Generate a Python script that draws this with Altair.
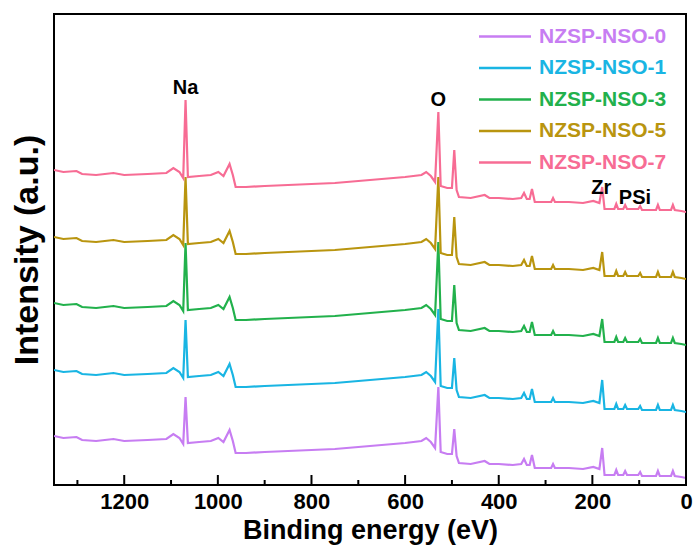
import altair as alt
import pandas as pd

series_names = ["NZSP-NSO-0", "NZSP-NSO-1", "NZSP-NSO-3", "NZSP-NSO-5", "NZSP-NSO-7"]
series_colors = ["#c77df2", "#19b5e3", "#22b14c", "#b9950f", "#f76c94"]

energy = [1350, 1330, 1302, 1290, 1260, 1223, 1200, 1150, 1110, 1095, 1082, 1074, 1069, 1064, 1040,
          1015, 999, 988, 975, 968, 962, 940, 900, 850, 800, 750, 700, 650, 600, 565, 555, 545, 536,
          529, 524, 510, 500, 495, 490, 485, 460, 430, 420, 400, 370, 352, 346, 340, 334, 329, 323,
          300, 288, 284, 280, 250, 220, 198, 185, 179, 174, 160, 153, 149, 145, 134, 130, 126,
          102, 98, 94, 64, 60, 56, 32, 28, 24, 10, 0]

nso0 = [49, 47, 48, 45, 44, 46, 44, 45, 46, 51, 47, 41, 88, 42, 43, 44, 47, 43, 55, 44, 32, 32, 33, 34, 35,
        36, 38, 40, 42, 44, 47, 43, 37, 98, 33, 31, 31, 56, 29, 22, 21, 24, 21, 21, 20, 21, 26, 20, 20, 30,
        17,
        17, 17, 21, 17, 17, 16, 18, 16, 37, 10, 10, 10, 15, 10, 10, 14, 10, 10, 13, 9, 9, 14, 9, 9, 14, 9, 8, 7]
nso1 = [115, 113, 114, 111, 110, 112, 110, 111, 112, 117, 113, 107, 165, 108, 109, 110, 113, 109, 121, 110,
        98, 98, 99, 100, 101, 102, 104, 106, 108, 110, 113, 109, 103, 176, 99, 97, 97, 127, 95, 88,
        87, 90, 87, 87, 86, 87, 92, 86, 86, 96, 83,
        83, 83, 87, 83, 83, 82, 84, 82, 105, 76, 76, 76, 81, 76, 76, 80, 76, 76, 79, 75, 75, 80, 75, 75, 80,
        75, 74, 73]
nso3 = [182, 180, 181, 178, 177, 179, 177, 178, 179, 184, 180, 174, 242, 175, 176, 177, 180, 176, 188, 177,
        165, 165, 166, 167, 168, 169, 171, 173, 175, 177, 180, 176, 170, 243, 166, 164, 164, 200, 162, 155,
        154, 157, 154, 154, 153, 154, 159, 153, 153, 163, 150,
        150, 150, 154, 150, 150, 149, 151, 149, 166, 143, 143, 143, 148, 143, 143, 147, 143, 143, 146, 142,
        142, 147, 142, 142, 147, 142, 141, 140]
nso5 = [248, 246, 247, 244, 243, 245, 243, 244, 245, 250, 246, 240, 308, 241, 242, 243, 246, 242, 254, 243,
        231, 231, 232, 233, 234, 235, 237, 239, 241, 243, 246, 242, 236, 308, 232, 230, 230, 268, 228, 221,
        220, 223, 220, 220, 219, 220, 225, 219, 219, 229, 216,
        216, 216, 220, 216, 216, 215, 217, 215, 233, 209, 209, 209, 214, 209, 209, 213, 209, 209, 212, 208,
        208, 213, 208, 208, 213, 208, 207, 206]
nso7 = [315, 313, 314, 311, 310, 312, 310, 311, 312, 317, 313, 307, 385, 308, 309, 310, 313, 309, 321, 310,
        298, 298, 299, 300, 301, 302, 304, 306, 308, 310, 313, 309, 303, 373, 299, 297, 297, 335, 295, 288,
        287, 290, 287, 287, 286, 287, 292, 286, 286, 296, 283,
        283, 283, 287, 283, 283, 282, 284, 282, 298, 276, 276, 276, 281, 276, 276, 280, 276, 276, 279, 275,
        275, 280, 275, 275, 280, 275, 274, 273]

peak_labels = ["Na", "O", "Zr", "PSi"]
peak_energy = [1069, 529, 181, 109]
peak_y = [397, 385, 297, 287]

major_ticks = [1200, 1000, 800, 600, 400, 200, 0]
minor_ticks = [1300, 1100, 900, 700, 500, 300, 100]

FONT = "Liberation Sans"

rows = []
for name, vals in zip(series_names, [nso0, nso1, nso3, nso5, nso7]):
    for e, v in zip(energy, vals):
        rows.append({"sample": name, "energy": e, "intensity": v})
df = pd.DataFrame(rows)

xscale = alt.Scale(domain=[0, 1350], reverse=True, nice=False, zero=False)
yscale = alt.Scale(domain=[0, 471], nice=False, zero=False)

label_expr = " : ".join(
    f"datum.label == '{n}' ? '{c}'" for n, c in zip(series_names[:-1], series_colors[:-1])
) + f" : '{series_colors[-1]}'"

lines = alt.Chart(df).mark_line(strokeWidth=2.2, clip=True).encode(
    x=alt.X("energy:Q", scale=xscale,
            axis=alt.Axis(values=major_ticks, format="d", title="Binding energy (eV)", grid=False,
                          domain=False, ticks=False, labelFont=FONT, labelFontSize=22,
                          labelFontWeight="bold", labelColor="black", labelPadding=6, titleFont=FONT,
                          titleFontSize=27, titleFontWeight="bold", titleColor="black", titlePadding=5,
                          labelFlush=False)),
    y=alt.Y("intensity:Q", scale=yscale,
            axis=alt.Axis(labels=False, ticks=False, domain=False, grid=False, title="Intensity (a.u.)",
                          titleFont=FONT, titleFontSize=34, titleFontWeight="bold", titleColor="black",
                          titlePadding=10)),
    color=alt.Color("sample:N", scale=alt.Scale(domain=series_names, range=series_colors),
                    legend=alt.Legend(orient="none", legendX=440.5, legendY=12, title=None,
                                      symbolType="M-4,0H4", symbolSize=169, symbolStrokeWidth=2.5,
                                      labelFont=FONT, labelFontSize=21, labelFontWeight="bold",
                                      labelColor=alt.ExprRef(label_expr), rowPadding=9.5,
                                      labelOffset=23.5, padding=0)),
    detail="sample:N",
)

peaks_df = pd.DataFrame({"label": peak_labels, "energy": peak_energy, "y": peak_y})
annot = alt.Chart(peaks_df).mark_text(font=FONT, fontSize=20, fontWeight="bold", color="black").encode(
    x=alt.X("energy:Q", scale=xscale), y=alt.Y("y:Q", scale=yscale), text="label:N")

major_df = pd.DataFrame({"energy": major_ticks})
minor_df = pd.DataFrame({"energy": minor_ticks})
major = alt.Chart(major_df).mark_rule(color="black", strokeWidth=2).encode(
    x=alt.X("energy:Q", scale=xscale), y=alt.value(471), y2=alt.value(461))
minor = alt.Chart(minor_df).mark_rule(color="black", strokeWidth=2).encode(
    x=alt.X("energy:Q", scale=xscale), y=alt.value(471), y2=alt.value(466))

chart = alt.layer(lines, annot, major, minor).properties(
    width=632, height=471, autosize="none",
    padding={"left": 54, "top": 14, "right": 8, "bottom": 66},
    background="white",
).configure_view(stroke="black", strokeWidth=2)

chart.save("out.html", embed_options={"renderer": "svg", "actions": False})
